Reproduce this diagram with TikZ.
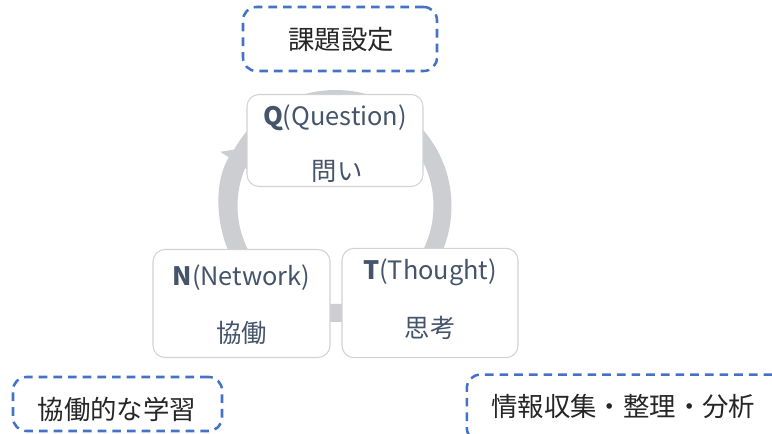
\documentclass[tikz,border=0pt]{standalone}
\usepackage{fontspec}
\setmainfont{Noto Sans CJK JP}
\usetikzlibrary{arrows.meta,calc}
\definecolor{ringgray}{RGB}{205,206,209}
\definecolor{boxline}{RGB}{210,210,210}
\definecolor{txt}{RGB}{68,84,106}
\definecolor{dashblue}{RGB}{68,114,196}
\begin{document}
\begin{tikzpicture}[x=0.75pt,y=-0.75pt,
  cyclebox/.style={draw=boxline,line width=0.8pt,fill=white,rounded corners=9pt,inner sep=0pt},
  boxtext/.style={text=txt,inner sep=0pt,font=\fontsize{19}{22}\selectfont},
  labelbox/.style={draw=dashblue,line width=1.9pt,dash pattern=on 6.5pt off 4.5pt,rounded corners=10pt,inner sep=0pt},
  labeltext/.style={text=black!85,inner sep=0pt,font=\fontsize{19.8}{23}\selectfont},
  ring/.style={ringgray,line width=13.5pt}]
\clip (0,0) rectangle (772,434);
\fill[white] (0,0) rectangle (772,434);
% ring
\coordinate (c) at (335.5,206);
\draw[ring] (c) circle[radius=107];
\draw[ring,-{Triangle[width=28pt,length=13pt]}] ($(c)+(150:107)$) arc[start angle=150,end angle=213,radius=107];
% cycle boxes
\node[cyclebox,minimum width=132pt,minimum height=69pt] (q) at (335,140.5) {};
\node[cyclebox,minimum width=132.75pt,minimum height=81pt] (n) at (241.5,303.5) {};
\node[cyclebox,minimum width=132pt,minimum height=82pt] (t) at (430,303) {};
\node[boxtext] (qa) at (335,118) {\textbf{Q}(Question)};
\node[boxtext] (qb) at (337,171) {問い};
\node[boxtext] (na) at (241.5,278) {\textbf{N}(Network)};
\node[boxtext] (nb) at (241.5,333) {協働};
\node[boxtext] (ta) at (430,272) {\textbf{T}(Thought)};
\node[boxtext] (tb) at (430,328) {思考};
% labels
\node[labelbox,minimum width=145.5pt,minimum height=48pt] (l1) at (340,39) {};
\node[labeltext] (l1t) at (341,40) {課題設定};
\node[labelbox,minimum width=156.75pt,minimum height=40.5pt] (l2) at (117.5,404) {};
\node[labeltext] (l2t) at (117,409) {協働的な学習};
\node[labelbox,minimum width=250pt,minimum height=50pt] (l3) at (633.5,408) {};
\node[labeltext,anchor=west] (l3t) at (491,407) {情報収集・整理・分析};
\end{tikzpicture}
\end{document}
